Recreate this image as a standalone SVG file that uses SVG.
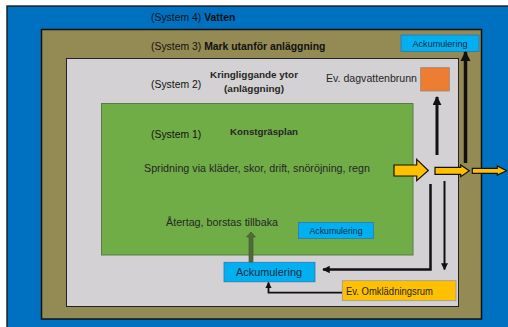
<svg xmlns="http://www.w3.org/2000/svg" width="508" height="327" viewBox="0 0 508 327">
<style>
.sys{font-family:"Liberation Sans",Arial,sans-serif;font-size:10.4px;fill:#111}
.b{font-weight:bold}
.cal{font-family:"Liberation Sans",Arial,sans-serif;fill:#262626}
.ack{fill:#00B0F0;stroke:#2E75B6;stroke-width:0.8}
.acktxt{font-family:"Liberation Sans",Arial,sans-serif;fill:#1a2a40;text-anchor:middle}
.ln{fill:none;stroke:#111;stroke-linecap:butt}
.ya{fill:#FFC000;stroke:#111;stroke-width:1.2;stroke-linejoin:miter}
</style>
<defs>
<marker id="ah" viewBox="0 0 10 10" refX="9" refY="5" markerWidth="3" markerHeight="3" orient="auto">
<path d="M0,0 L10,5 L0,10 z" fill="#111"/>
</marker>
<marker id="ahs" viewBox="0 0 10 10" refX="9" refY="5" markerWidth="3.5" markerHeight="3.5" orient="auto">
<path d="M0,0 L10,5 L0,10 z" fill="#111"/>
</marker>
</defs>
<rect width="508" height="327" fill="#fff"/>
<g id="system4">
<rect x="7" y="6" width="503" height="325" fill="#0070C0" stroke="#1a1a1a" stroke-width="1.4"/>
<text class="sys" x="151" y="20.5">(System 4) <tspan class="b">Vatten</tspan></text>
</g>
<g id="system3">
<rect x="41.5" y="29.5" width="440" height="289.5" fill="#948A54" stroke="#111" stroke-width="1.5"/>
<text class="sys" x="151" y="50">(System 3) <tspan class="b">Mark utanför anläggning</tspan></text>
</g>
<g id="system2">
<rect x="66.5" y="58.5" width="392" height="248" fill="#D3D1D3" stroke="#222" stroke-width="1"/>
<text class="sys" x="151" y="87.5">(System 2)</text>
<text class="cal b" x="210" y="78" font-size="9.5" textLength="88" lengthAdjust="spacingAndGlyphs" fill="#404040">Kringliggande ytor</text>
<text class="cal b" x="224" y="92" font-size="9.5" textLength="60" lengthAdjust="spacingAndGlyphs" fill="#404040">(anläggning)</text>
<text class="cal" x="326" y="82" font-size="10" textLength="91" lengthAdjust="spacingAndGlyphs" fill="#7a7a7a">Ev. dagvattenbrunn</text>
</g>
<g id="system1">
<rect x="101.5" y="103.5" width="311.5" height="151.5" fill="#70AD47" stroke="#5a7a4a" stroke-width="1"/>
<text class="sys" x="151" y="137.5">(System 1)</text>
<text class="cal b" x="230" y="135" font-size="9.5" textLength="68" lengthAdjust="spacingAndGlyphs" fill="#1a1a1a">Konstgräsplan</text>
<text class="cal" x="144" y="172" font-size="10.8" textLength="226" lengthAdjust="spacingAndGlyphs">Spridning via kläder, skor, drift, snöröjning, regn</text>
<text class="cal" x="166" y="226" font-size="10.8" textLength="112" lengthAdjust="spacingAndGlyphs">Återtag, borstas tillbaka</text>
</g>
<g id="ack-top">
<rect class="ack" x="401" y="35" width="78" height="16.5"/>
<text class="acktxt" x="440" y="46.5" font-size="9" textLength="55" lengthAdjust="spacingAndGlyphs">Ackumulering</text>
</g>
<g id="dagvattenbrunn">
<rect x="420.7" y="67.7" width="28.6" height="23.3" fill="#ED7D31" stroke="#a08070" stroke-width="0.8"/>
</g>
<g id="ack-inner">
<rect class="ack" x="298.5" y="222.5" width="75" height="16"/>
<text class="acktxt" x="336" y="233.5" font-size="9" textLength="53" lengthAdjust="spacingAndGlyphs">Ackumulering</text>
</g>
<g id="ack-bottom">
<rect class="ack" x="224" y="262.3" width="91" height="19.5"/>
<text class="acktxt" x="269" y="276" font-size="11" textLength="66" lengthAdjust="spacingAndGlyphs">Ackumulering</text>
</g>
<g id="omkladningsrum">
<rect x="342.3" y="280.7" width="113.7" height="20" fill="#FFC000" stroke="#999" stroke-width="0.8"/>
<text class="cal" x="346" y="294.5" font-size="10" textLength="87" lengthAdjust="spacingAndGlyphs" fill="#3a3520">Ev. Omklädningsrum</text>
</g>
<g id="connectors">
<line class="ln" x1="437" y1="155" x2="437" y2="97" stroke-width="3" marker-end="url(#ah)"/>
<line class="ln" x1="465.5" y1="163" x2="465.5" y2="52" stroke-width="3.5" marker-end="url(#ah)"/>
<polyline class="ln" points="430.5,184 430.5,269.5 323,269.5" stroke-width="2.5" marker-end="url(#ah)"/>
<line class="ln" x1="444.5" y1="181" x2="444.5" y2="269.5" stroke-width="2" marker-end="url(#ahs)"/>
<polyline class="ln" points="342,292.7 268.5,292.7 268.5,282.5" stroke-width="1.8" marker-end="url(#ahs)"/>
<polygon points="249,262 249,237 246.5,237 251,232 255.5,237 253,237 253,262" fill="#4F6B3A" stroke="#3d5530" stroke-width="0.6"/>
<polygon class="ya" points="394,165 416.7,165 416.7,159.3 428.3,170.5 416.7,180.7 416.7,176 394,176"/>
<polygon class="ya" points="435,167.3 460.7,167.3 460.7,165 469.3,170.8 460.7,176.7 460.7,174.3 435,174.3"/>
<polygon class="ya" points="472.3,168.3 497.3,168.3 497.3,166 506.7,170.7 497.3,175 497.3,173.3 472.3,173.3"/>
</g>
</svg>
